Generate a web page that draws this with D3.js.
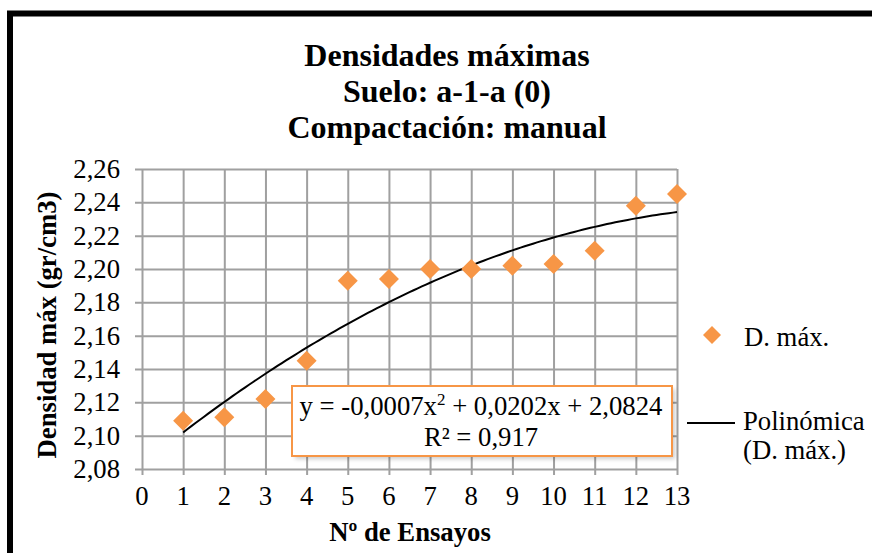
<!DOCTYPE html>
<html>
<head>
<meta charset="utf-8">
<script src="https://cdn.jsdelivr.net/npm/d3@7"></script>
<style>
  html, body { margin: 0; padding: 0; background: #fff; }
  svg { display: block; font-family: "Liberation Serif", "Times New Roman", serif; }
</style>
</head>
<body>
<svg id="chart" width="872" height="553"></svg>
<script>
// Ensayos de compactación manual, suelo a-1-a (0)
const ensayos = [1, 2, 3, 4, 5, 6, 7, 8, 9, 10, 11, 12, 13];
const densidadMax = [2.109, 2.111, 2.122, 2.145, 2.193, 2.194, 2.200, 2.200, 2.202, 2.203, 2.211, 2.238, 2.245];
const xTicks = d3.range(0, 14);
const yTicks = [2.08, 2.10, 2.12, 2.14, 2.16, 2.18, 2.20, 2.22, 2.24, 2.26];
const titleLines = ["Densidades máximas", "Suelo: a-1-a (0)", "Compactación: manual"];
const equationText = ["y = -0,0007x", "2", " + 0,0202x + 2,0824"];
const r2Text = "R² = 0,917";

const orange = "#F79646";
const gridColor = "#a0a0a0";
const fs = 26.7;
const fmt = v => v.toFixed(2).replace(".", ",");

const svg = d3.select("#chart");

// outer frame
svg.append("rect")
  .attr("x", 10).attr("y", 13.5).attr("width", 900).attr("height", 600)
  .attr("fill", "none").attr("stroke", "#000").attr("stroke-width", 6);

const x = d3.scaleLinear().domain([0, 13]).range([142, 677]);
const y = d3.scaleLinear().domain([2.08, 2.26]).range([469, 169]);

// title
svg.append("g").selectAll("text").data(titleLines).join("text")
  .attr("x", 447).attr("y", (d, i) => 66 + i * 36)
  .attr("text-anchor", "middle")
  .attr("font-size", 32).attr("font-weight", "bold")
  .text(d => d);

// horizontal gridlines via axis
const yAxis = d3.axisLeft(y).tickValues(yTicks).tickSize(0).tickFormat("");
svg.append("g").attr("transform", `translate(${x(0) - 7},0)`)
  .call(yAxis)
  .call(g => g.select(".domain").remove())
  .call(g => g.selectAll(".tick line").attr("stroke", gridColor).attr("stroke-width", 2)
    .attr("x1", 0).attr("x2", x(13) - x(0) + 7));

// vertical gridlines via axis
const xAxis = d3.axisBottom(x).tickValues(xTicks).tickSize(-(y(2.08) - y(2.26)) - 6).tickFormat("");
svg.append("g").attr("transform", `translate(0,${y(2.08) + 6})`)
  .call(xAxis)
  .call(g => g.select(".domain").remove())
  .call(g => g.selectAll(".tick line").attr("stroke", gridColor).attr("stroke-width", 2));

// tick labels
svg.append("g").selectAll("text").data(yTicks).join("text")
  .attr("x", 120).attr("y", d => y(d) + 9)
  .attr("text-anchor", "end").attr("font-size", fs)
  .text(d => fmt(d));

svg.append("g").selectAll("text").data(xTicks).join("text")
  .attr("x", d => x(d)).attr("y", 505)
  .attr("text-anchor", "middle").attr("font-size", fs)
  .text(d => d);

// axis titles
svg.append("text")
  .attr("transform", `translate(56,${(y(2.08) + y(2.26)) / 2 + 6}) rotate(-90)`)
  .attr("text-anchor", "middle").attr("font-size", fs).attr("font-weight", "bold")
  .text("Densidad máx (gr/cm3)");

svg.append("text")
  .attr("x", 410).attr("y", 541)
  .attr("text-anchor", "middle").attr("font-size", fs).attr("font-weight", "bold")
  .text("Nº de Ensayos");

// quadratic least-squares trend of the measurements
function quadFit(xs, ys) {
  const n = xs.length;
  let s = [0, 0, 0, 0, 0], t = [0, 0, 0];
  for (let i = 0; i < n; i++) {
    const xi = xs[i], yi = ys[i];
    for (let k = 0; k < 5; k++) s[k] += Math.pow(xi, k);
    for (let k = 0; k < 3; k++) t[k] += yi * Math.pow(xi, k);
  }
  const A = [[s[0], s[1], s[2], t[0]], [s[1], s[2], s[3], t[1]], [s[2], s[3], s[4], t[2]]];
  for (let c = 0; c < 3; c++) {
    for (let r = c + 1; r < 3; r++) {
      const f = A[r][c] / A[c][c];
      for (let k = c; k < 4; k++) A[r][k] -= f * A[c][k];
    }
  }
  const coef = [0, 0, 0];
  for (let r = 2; r >= 0; r--) {
    let v = A[r][3];
    for (let k = r + 1; k < 3; k++) v -= A[r][k] * coef[k];
    coef[r] = v / A[r][r];
  }
  return coef; // c0 + c1 x + c2 x^2
}
const coef = quadFit(ensayos, densidadMax);
const trendX = d3.range(1, 13.001, 0.1);
const trend = trendX.map(v => [v, coef[0] + coef[1] * v + coef[2] * v * v]);

svg.append("path")
  .datum(trend)
  .attr("fill", "none").attr("stroke", "#000").attr("stroke-width", 2)
  .attr("d", d3.line().x(d => x(d[0])).y(d => y(d[1])));

// data markers
const diamond = d3.symbol().type(d3.symbolSquare).size(200);
svg.append("g").selectAll("path").data(ensayos).join("path")
  .attr("transform", (d, i) => `translate(${x(d)},${y(densidadMax[i])}) rotate(45)`)
  .attr("d", diamond)
  .attr("fill", orange);

// equation label
const box = svg.append("g");
box.append("rect")
  .attr("x", 295).attr("y", 389).attr("width", 380).attr("height", 70)
  .attr("fill", "#000").attr("opacity", 0.2)
  .attr("filter", "blur(2px)");
box.append("rect")
  .attr("x", 292).attr("y", 386).attr("width", 380).attr("height", 70)
  .attr("fill", "#fff").attr("stroke", orange).attr("stroke-width", 2);
const eq = box.append("text")
  .attr("x", 481).attr("y", 415)
  .attr("text-anchor", "middle").attr("font-size", fs);
eq.append("tspan").text(equationText[0]);
eq.append("tspan").attr("dy", -10).attr("font-size", 17).text(equationText[1]);
eq.append("tspan").attr("dy", 10).text(equationText[2]);
box.append("text")
  .attr("x", 481).attr("y", 446)
  .attr("text-anchor", "middle").attr("font-size", fs)
  .text(r2Text);

// legend
const leg = svg.append("g");
leg.append("path")
  .attr("transform", "translate(712,335) rotate(45)")
  .attr("d", d3.symbol().type(d3.symbolSquare).size(162))
  .attr("fill", orange);
leg.append("text").attr("x", 744).attr("y", 346).attr("font-size", fs).text("D. máx.");
leg.append("line").attr("x1", 687).attr("x2", 735).attr("y1", 423).attr("y2", 423)
  .attr("stroke", "#000").attr("stroke-width", 2);
leg.append("text").attr("x", 743).attr("y", 430).attr("font-size", fs).text("Polinómica");
leg.append("text").attr("x", 743).attr("y", 459).attr("font-size", fs).text("(D. máx.)");
</script>
</body>
</html>
